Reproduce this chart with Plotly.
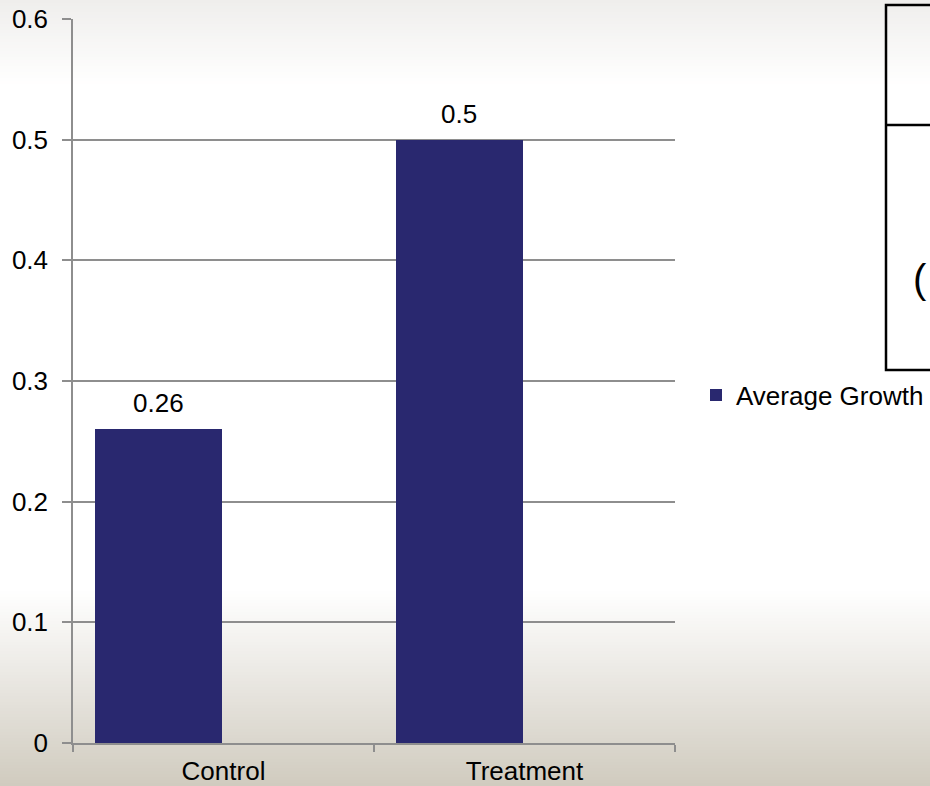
import plotly.graph_objects as go

# Average growth per group
groups = ["Control", "Treatment"]
avg_growth = [0.26, 0.5]
value_labels = ["0.26", "0.5"]
series_name = "Average Growth"

W, H = 930, 786
ML, MR, MT, MB = 73, 255, 19, 43
PW, PH = W - ML - MR, H - MT - MB

BAR_COLOR = "#29286f"
GRID = "#8e8e8e"
FONT = "Liberation Sans, Arial, sans-serif"
FS = 26

BAR_W = 0.422
BAR_OFF = -0.427


def px_x(x):
    return (x - ML) / PW


def px_y(y):
    return (H - MB - y) / PH


fig = go.Figure()
fig.add_trace(go.Bar(
    x=groups, y=avg_growth, name=series_name,
    marker=dict(color=BAR_COLOR, line=dict(width=0)),
    width=BAR_W, offset=BAR_OFF, showlegend=True,
))

# value labels above each bar
annotations = []
for i, (v, t) in enumerate(zip(avg_growth, value_labels)):
    annotations.append(dict(
        x=i + BAR_OFF + BAR_W / 2, y=v, xref="x", yref="y",
        text=t, showarrow=False, yanchor="bottom", yshift=9,
        font=dict(family=FONT, size=FS, color="#000000"),
    ))

# partially visible table at the right edge
annotations.append(dict(
    x=px_x(911), y=px_y(279), xref="paper", yref="paper",
    text="(", showarrow=False, xanchor="left", yanchor="middle",
    font=dict(family=FONT, size=40, color="#000000"),
))

# vertical background gradient built from thin stripes
stops = [(0, (239, 238, 236)), (85, (255, 255, 255)),
         (590, (255, 255, 255)), (786, (208, 203, 191))]


def grad(y):
    for (y0, c0), (y1, c1) in zip(stops[:-1], stops[1:]):
        if y0 <= y <= y1:
            t = (y - y0) / (y1 - y0)
            return tuple(round(a + (b - a) * t) for a, b in zip(c0, c1))
    return stops[-1][1]


shapes = []
step = 3
for y in range(0, H, step):
    c = grad(y + step / 2)
    shapes.append(dict(
        type="rect", xref="paper", yref="paper", layer="below",
        x0=px_x(-2), x1=px_x(W + 2), y0=px_y(y + step + 0.5), y1=px_y(y),
        fillcolor="rgb(%d,%d,%d)" % c, line=dict(width=0),
    ))

shapes.append(dict(type="rect", xref="paper", yref="paper",
                   x0=px_x(886), x1=px_x(940), y0=px_y(370), y1=px_y(5),
                   line=dict(color="#000000", width=2.5)))
shapes.append(dict(type="line", xref="paper", yref="paper",
                   x0=px_x(886), x1=px_x(940), y0=px_y(125), y1=px_y(125),
                   line=dict(color="#000000", width=2.5)))

fig.update_layout(
    width=W, height=H,
    margin=dict(l=ML, r=MR, t=MT, b=MB, pad=0, autoexpand=False),
    paper_bgcolor="#ffffff", plot_bgcolor="rgba(0,0,0,0)",
    font=dict(family=FONT, size=FS, color="#000000"),
    showlegend=True,
    legend=dict(x=px_x(696), y=px_y(395), xanchor="left", yanchor="middle",
                bgcolor="rgba(0,0,0,0)", font=dict(size=FS),
                itemwidth=30),
    annotations=annotations, shapes=shapes,
    bargap=0,
)
fig.update_xaxes(
    type="category", range=[-0.5, 1.5], automargin=False,
    showline=True, linecolor=GRID, linewidth=1.5,
    ticks="outside", tickson="boundaries", ticklen=7, tickcolor=GRID, tickwidth=1.5,
    showgrid=False, tickfont=dict(size=FS), ticklabelstandoff=4,
)
fig.update_yaxes(
    range=[0, 0.6], dtick=0.1, tickformat=".1~f", automargin=False,
    showline=True, linecolor=GRID, linewidth=1.5,
    ticks="outside", ticklen=9, tickcolor=GRID, tickwidth=1.5,
    showgrid=True, gridcolor=GRID, gridwidth=1.5, zeroline=False,
    tickfont=dict(size=FS), ticklabelstandoff=9,
)

fig.write_html("out.html")
